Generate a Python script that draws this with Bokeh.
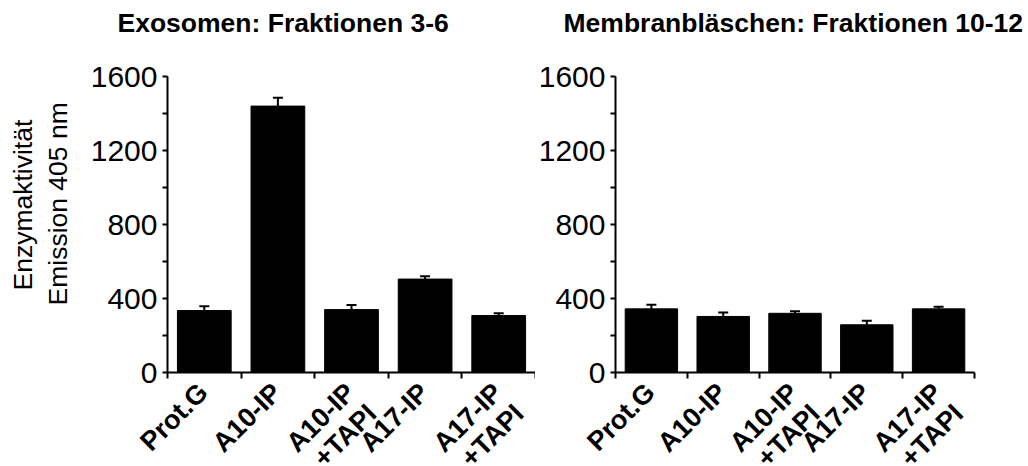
import math

from bokeh.core.properties import value
from bokeh.embed import file_html
from bokeh.layouts import column, row
from bokeh.models import (ColumnDataSource, FixedTicker, Range1d, TeeHead,
                          Whisker)
from bokeh.plotting import figure
from bokeh.resources import INLINE

# ---- data -----------------------------------------------------------------
categories = ["Prot.G", "A10-IP", "A10-IP\n+TAPI", "A17-IP", "A17-IP\n+TAPI"]

exo_title = "Exosomen: Fraktionen 3-6"
exo_mean = [335, 1440, 340, 505, 308]
exo_err = [23, 45, 25, 15, 12]

mem_title = "Membranbläschen: Fraktionen 10-12"
mem_mean = [344, 303, 320, 258, 344]
mem_err = [22, 22, 11, 22, 12]

y_max = 1600
y_ticks = [0, 400, 800, 1200, 1600]
y_minor = [200, 600, 1000, 1400]
y_label_lines = ["Enzymaktivität", "Emission 405 nm"]

# ---- layout constants (pixels) -------------------------------------------
FONT = "Liberation Sans"
TOTAL_W = 1028
TOTAL_H = 466
HEAD_H = 50        # strip holding the two panel headings
CAPTION_W = 84     # strip holding the vertical axis caption
FRAME_TOP = 76     # y = 1600
ZERO_Y = 372       # y = 0
FRAME_H = ZERO_Y - FRAME_TOP
LABEL_SHIFT = 0.13  # nudges the rotated two-line category labels sideways


def blank_canvas(w, frame_h, top=0):
    """A figure with no axes whose frame is used for free text."""
    f = figure(frame_width=w, frame_height=frame_h,
               x_range=Range1d(0, w), y_range=Range1d(0, frame_h),
               output_backend="svg", toolbar_location=None,
               x_axis_location=None, y_axis_location=None,
               min_border_left=0, min_border_right=0,
               min_border_top=top, min_border_bottom=0,
               background_fill_color="white", border_fill_color="white")
    f.outline_line_color = None
    f.grid.visible = False
    return f


def two_line(label):
    # every category label becomes a two-line block so that the first
    # lines of all labels share the same anchor
    return label if "\n" in label else label + "\n\u00a0"


def bar_panel(means, errs, frame_w, left, right):
    n = len(categories)
    centers = [i + 0.5 for i in range(n)]
    edges = [float(i) for i in range(n + 1)]
    label_pos = [c + LABEL_SHIFT for c in centers]

    src = ColumnDataSource(dict(
        x=centers,
        top=means,
        upper=[m + e for m, e in zip(means, errs)],
    ))

    p = figure(frame_width=frame_w, frame_height=FRAME_H,
               x_range=Range1d(0, n), y_range=Range1d(0, y_max),
               output_backend="svg", toolbar_location=None,
               min_border_left=left, min_border_right=right,
               min_border_top=FRAME_TOP - HEAD_H, min_border_bottom=0,
               background_fill_color="white", border_fill_color="white")
    p.outline_line_color = None
    p.grid.visible = False

    p.vbar(x="x", top="top", bottom=0, width=0.73, source=src,
           fill_color="black", line_color="black")

    p.add_layout(Whisker(source=src, base="x", lower="top", upper="upper",
                         dimension="height", line_color="black",
                         line_width=2,
                         upper_head=TeeHead(size=10, line_color="black",
                                            line_width=2),
                         lower_head=None))

    # x axis: labels under the bars, tick marks at category boundaries
    xa = p.xaxis[0]
    xa.ticker = FixedTicker(ticks=label_pos, minor_ticks=edges)
    xa.major_label_overrides = {pos: two_line(lab)
                                for pos, lab in zip(label_pos, categories)}
    xa.major_tick_out = 0
    xa.major_tick_in = 0
    xa.minor_tick_out = 6
    xa.minor_tick_in = 0
    xa.minor_tick_line_color = "black"
    xa.minor_tick_line_width = 2
    xa.axis_line_width = 2
    xa.axis_line_color = "black"
    xa.major_label_orientation = math.pi / 4
    xa.major_label_standoff = 20
    xa.major_label_text_font = FONT
    xa.major_label_text_font_style = "bold"
    xa.major_label_text_font_size = "27px"
    xa.major_label_text_line_height = 1.0
    xa.major_label_text_color = "black"

    ya = p.yaxis[0]
    ya.ticker = FixedTicker(ticks=y_ticks, minor_ticks=y_minor)
    ya.major_tick_out = 5
    ya.major_tick_in = 0
    ya.minor_tick_out = 5
    ya.minor_tick_in = 0
    ya.major_tick_line_width = 2
    ya.minor_tick_line_width = 2
    ya.minor_tick_line_color = "black"
    ya.axis_line_width = 2
    ya.axis_line_color = "black"
    ya.major_label_standoff = 5
    ya.major_label_text_font = FONT
    ya.major_label_text_font_size = "30px"
    ya.major_label_text_color = "black"
    return p


# headings above both panels
head = blank_canvas(TOTAL_W, HEAD_H)
head.text(x=[117, 563], y=[HEAD_H - 22, HEAD_H - 22],
          text=[exo_title, mem_title], text_font=value(FONT),
          text_font_style="bold", text_font_size=value("26.5px"),
          text_color="black", text_align="left", text_baseline="middle")

# two-line vertical caption left of the first panel, reading upwards;
# its frame spans the same rows as the value axis
caption = blank_canvas(CAPTION_W, FRAME_H, top=FRAME_TOP - HEAD_H)
caption.text(x=[22, 57], y=[ZERO_Y - 290, ZERO_Y - 305], text=y_label_lines,
             angle=math.pi / 2, text_font=value(FONT),
             text_font_size=value("26.5px"), text_color="black",
             text_align="left", text_baseline="middle")

left = bar_panel(exo_mean, exo_err, frame_w=368, left=167 - CAPTION_W,
                 right=0)
right = bar_panel(mem_mean, mem_err, frame_w=359, left=77, right=57)

layout = column(head, row(caption, left, right))

html = file_html(layout, INLINE, title="Enzymaktivität")
html = html.replace(
    "<head>",
    "<head>\n<style>html, body {margin: 0; padding: 0; overflow: hidden;}</style>",
    1)
open("out.html", "w").write(html)
